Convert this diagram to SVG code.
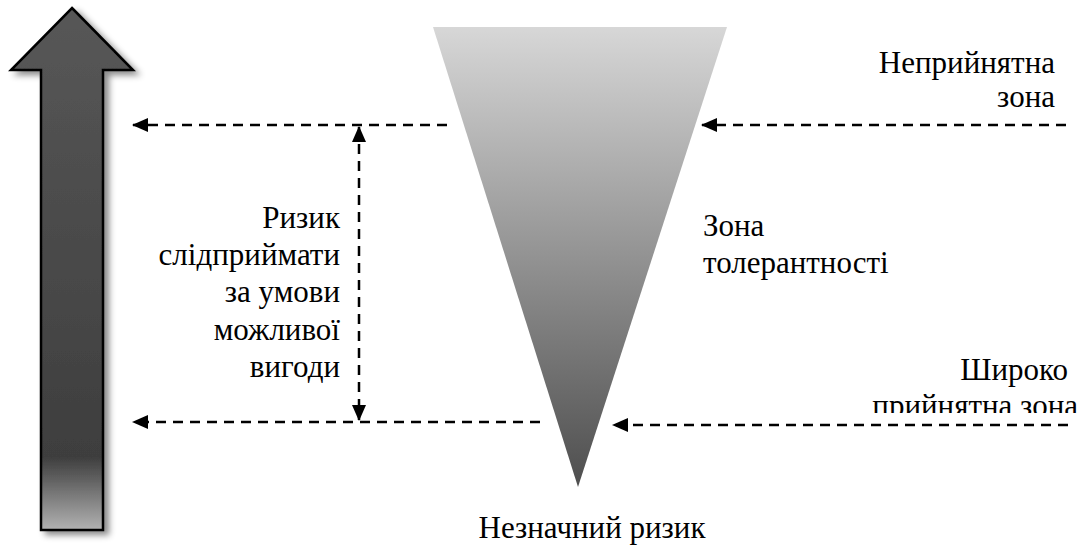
<svg xmlns="http://www.w3.org/2000/svg" width="1083" height="547" viewBox="0 0 1083 547">
<defs>
<linearGradient id="gArrow" x1="0" y1="8" x2="0" y2="530" gradientUnits="userSpaceOnUse">
<stop offset="0" stop-color="#575757"/>
<stop offset="0.86" stop-color="#3e3e3e"/>
<stop offset="0.9" stop-color="#5e5e5e"/>
<stop offset="1" stop-color="#b2b2b2"/>
</linearGradient>
<linearGradient id="gTri" x1="0" y1="27" x2="0" y2="487" gradientUnits="userSpaceOnUse">
<stop offset="0" stop-color="#d7d7d7"/>
<stop offset="1" stop-color="#4e4e4e"/>
</linearGradient>
<filter id="sh" x="-20%" y="-10%" width="150%" height="120%">
<feDropShadow dx="5" dy="4" stdDeviation="3" flood-color="#000" flood-opacity="0.45"/>
</filter>
<marker id="ah" viewBox="0 0 16 14" refX="15" refY="7" markerWidth="16" markerHeight="14" markerUnits="userSpaceOnUse" orient="auto-start-reverse">
<path d="M0,0 L16,7 L0,14 Z" fill="#000"/>
</marker>
<clipPath id="clipTxt"><rect x="800" y="340" width="283" height="73"/></clipPath>
</defs>

<g id="big-arrow">
<path d="M72,8 L133,70 L103,70 L103,530 L41,530 L41,70 L11,70 Z" fill="url(#gArrow)" stroke="#000" stroke-width="2.5" stroke-linejoin="miter" filter="url(#sh)"/>
</g>

<g id="risk-triangle">
<path d="M433,27 L727,27 L578,487 Z" fill="url(#gTri)"/>
</g>

<g id="connectors" stroke="#000" stroke-width="2.5" stroke-dasharray="10 7" fill="none">
<line x1="447" y1="125" x2="133" y2="125" marker-end="url(#ah)"/>
<line x1="540" y1="422" x2="133" y2="422" marker-end="url(#ah)"/>
<line x1="1066" y1="125" x2="702" y2="125" marker-end="url(#ah)"/>
<line x1="1068" y1="425" x2="613" y2="425" marker-end="url(#ah)"/>
<line x1="359" y1="127" x2="359" y2="420" marker-start="url(#ah)" marker-end="url(#ah)"/>
</g>

<g id="label-unacceptable">
<text x="1055" y="73" text-anchor="end" style="font-family:'Liberation Serif',serif" font-size="31">Неприйнятна</text>
<text x="1055" y="107" text-anchor="end" style="font-family:'Liberation Serif',serif" font-size="31">зона</text>
</g>

<g id="label-tolerance">
<text x="703" y="236" style="font-family:'Liberation Serif',serif" font-size="31">Зона</text>
<text x="703" y="273" style="font-family:'Liberation Serif',serif" font-size="31">толерантності</text>
</g>

<g id="label-risk">
<text x="340" y="228" text-anchor="end" style="font-family:'Liberation Serif',serif" font-size="31">Ризик</text>
<text x="340" y="265" text-anchor="end" style="font-family:'Liberation Serif',serif" font-size="31">слідприймати</text>
<text x="340" y="302" text-anchor="end" style="font-family:'Liberation Serif',serif" font-size="31">за умови</text>
<text x="340" y="340" text-anchor="end" style="font-family:'Liberation Serif',serif" font-size="31">можливої</text>
<text x="340" y="377" text-anchor="end" style="font-family:'Liberation Serif',serif" font-size="31">вигоди</text>
</g>

<g id="label-acceptable" clip-path="url(#clipTxt)">
<text x="1068" y="380" text-anchor="end" style="font-family:'Liberation Serif',serif" font-size="31">Широко</text>
<text x="1078" y="416" text-anchor="end" style="font-family:'Liberation Serif',serif" font-size="31">прийнятна зона</text>
</g>

<g id="label-negligible">
<text x="592" y="538" text-anchor="middle" style="font-family:'Liberation Serif',serif" font-size="31">Незначний ризик</text>
</g>
</svg>
